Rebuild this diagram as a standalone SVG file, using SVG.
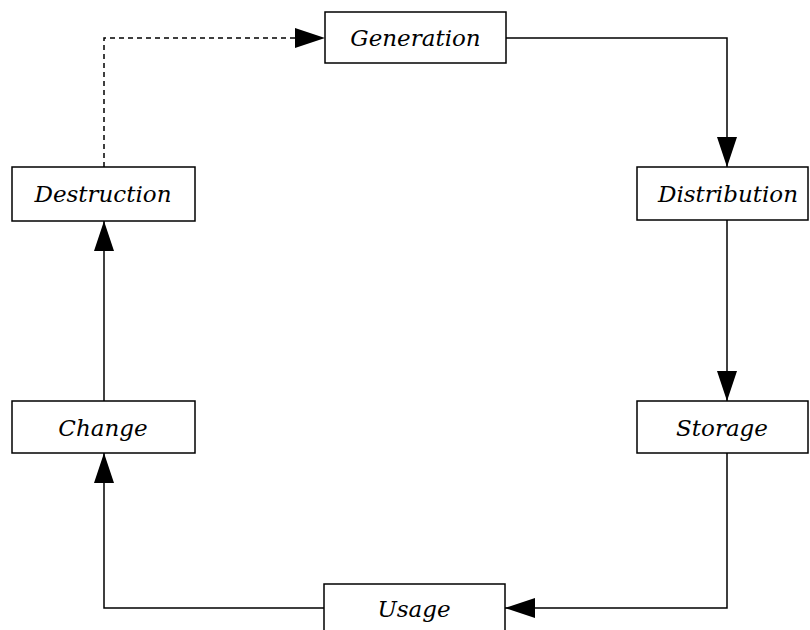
<svg xmlns="http://www.w3.org/2000/svg" width="810" height="630" viewBox="0 0 810 630">
<defs>
<style>
.box{fill:#fff;stroke:#000;stroke-width:1.5}
.lbl{font-family:"DejaVu Serif",serif;font-style:italic;font-size:23px;text-anchor:middle;fill:#000}
.ln{fill:none;stroke:#000;stroke-width:1.5}
.dash{stroke-dasharray:5,4}
</style>
<marker id="ah" markerWidth="30" markerHeight="20" refX="30" refY="10" orient="auto" markerUnits="userSpaceOnUse">
<path d="M0,0 L30,10 L0,20 Z" fill="#000"/>
</marker>
</defs>
<rect width="810" height="630" fill="#fff"/>
<g id="connectors">
<path class="ln dash" d="M104,167 V38 H325" marker-end="url(#ah)"/>
<path class="ln" d="M506,38 H727 V167" marker-end="url(#ah)"/>
<path class="ln" d="M727,220 V401" marker-end="url(#ah)"/>
<path class="ln" d="M727,453 V608 H505" marker-end="url(#ah)"/>
<path class="ln" d="M324,608 H104 V453" marker-end="url(#ah)"/>
<path class="ln" d="M104,401 V221" marker-end="url(#ah)"/>
</g>
<g id="generation"><rect class="box" x="325" y="12" width="181" height="51"/><text class="lbl" x="415.5" y="46">Generation</text></g>
<g id="distribution"><rect class="box" x="637" y="167" width="171" height="53"/><text class="lbl" x="728" y="202">Distribution</text></g>
<g id="storage"><rect class="box" x="637" y="401" width="171" height="52"/><text class="lbl" x="722" y="436">Storage</text></g>
<g id="usage"><rect class="box" x="324" y="584" width="181" height="60"/><text class="lbl" x="414" y="617">Usage</text></g>
<g id="change"><rect class="box" x="12" y="401" width="183" height="52"/><text class="lbl" x="103" y="436">Change</text></g>
<g id="destruction"><rect class="box" x="12" y="167" width="183" height="54"/><text class="lbl" x="103" y="202">Destruction</text></g>
</svg>
